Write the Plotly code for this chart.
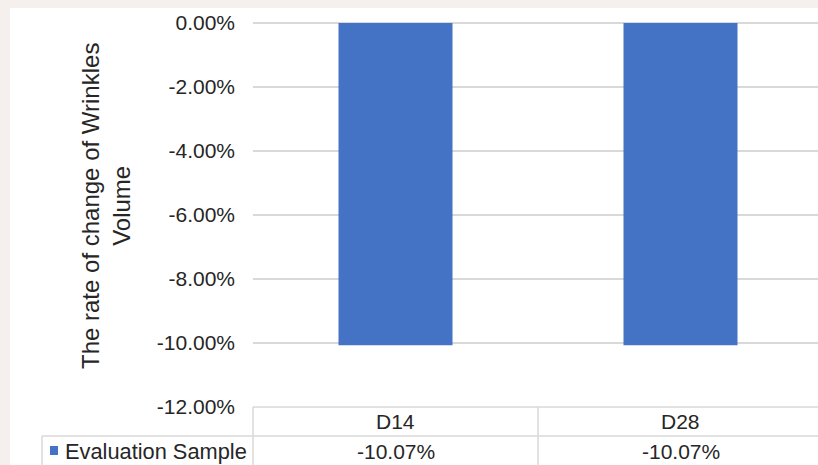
import plotly.graph_objects as go

categories = ["D14", "D28"]
series_name = "Evaluation Sample"
values = [-0.1007, -0.1007]
y_ticks = [0, -0.02, -0.04, -0.06, -0.08, -0.10, -0.12]

W, H = 818, 465
L, R, T, B = 253, 0, 23, 58
PW = W - L - R
PH = H - T - B
FONT = "Liberation Sans, Arial, sans-serif"
BLUE = "#4472c4"
GRID = "#d9d9d9"
TXT = "#262626"


def px_x(x):
    return (x - L) / PW


def px_y(y):
    return (H - B - y) / PH


def pct(v):
    return f"{v*100:.2f}%"


fig = go.Figure()
fig.add_trace(go.Bar(
    x=categories, y=values, name=series_name,
    marker=dict(color=BLUE, line=dict(width=0)),
    width=0.4, showlegend=False, hoverinfo="skip",
))

shapes = []
# page border (light background strip)
shapes.append(dict(type="rect", xref="paper", yref="paper", x0=px_x(0), x1=px_x(W),
                   y0=px_y(0), y1=px_y(8), fillcolor="#f5f0ed", line=dict(width=0), layer="above"))
shapes.append(dict(type="rect", xref="paper", yref="paper", x0=px_x(0), x1=px_x(10),
                   y0=px_y(0), y1=px_y(H), fillcolor="#f5f0ed", line=dict(width=0), layer="above"))


def hline(y, x0, x1):
    shapes.append(dict(type="line", xref="paper", yref="paper", x0=px_x(x0), x1=px_x(x1),
                       y0=px_y(y), y1=px_y(y), line=dict(color=GRID, width=1.5), layer="above"))


def vline(x, y0, y1):
    shapes.append(dict(type="line", xref="paper", yref="paper", x0=px_x(x), x1=px_x(x),
                       y0=px_y(y0), y1=px_y(y1), line=dict(color=GRID, width=1.5), layer="above"))


# data table grid
hline(407, 253, W)
hline(436, 42, W)
vline(253, 407, H)
vline(42, 436, H)
# separators between categories (in data coords)
for i in range(len(categories)):
    xc = i + 0.5
    shapes.append(dict(type="line", xref="x", yref="paper", x0=xc, x1=xc,
                       y0=px_y(407), y1=px_y(H), line=dict(color=GRID, width=1.5), layer="above"))
# legend key
shapes.append(dict(type="rect", xref="paper", yref="paper", x0=px_x(50), x1=px_x(58),
                   y0=px_y(446), y1=px_y(455), fillcolor=BLUE, line=dict(width=0), layer="above"))

annotations = []
for cat, v in zip(categories, values):
    annotations.append(dict(x=cat, xref="x", y=px_y(421.5), yref="paper", text=cat, showarrow=False,
                            xanchor="center", yanchor="middle", font=dict(family=FONT, size=21, color=TXT)))
    annotations.append(dict(x=cat, xref="x", y=px_y(451.5), yref="paper", text=pct(v),
                            showarrow=False, xanchor="center", yanchor="middle",
                            font=dict(family=FONT, size=21, color=TXT)))
annotations.append(dict(x=px_x(63), xref="paper", y=px_y(451.5), yref="paper", text=series_name,
                        showarrow=False, xanchor="left", yanchor="middle",
                        font=dict(family=FONT, size=21.8, color=TXT)))
annotations.append(dict(x=px_x(106), xref="paper", y=px_y(206), yref="paper",
                        text="The rate of change of Wrinkles<br>Volume", textangle=-90,
                        showarrow=False, xanchor="center", yanchor="middle",
                        font=dict(family=FONT, size=24, color=TXT)))

fig.update_layout(
    width=W, height=H,
    margin=dict(l=L, r=R, t=T, b=B, pad=0),
    paper_bgcolor="white", plot_bgcolor="white",
    shapes=shapes, annotations=annotations,
    xaxis=dict(range=[-0.5, 1.5 - 5 / 285], showticklabels=False, showgrid=False,
               zeroline=False, showline=False, ticks=""),
    yaxis=dict(range=[-0.12, 0], tickvals=y_ticks, ticktext=[pct(t) for t in y_ticks],
               showgrid=True, gridcolor=GRID, gridwidth=1.5,
               zeroline=True, zerolinecolor=GRID, zerolinewidth=1.5,
               showline=False, ticks="", ticklabelstandoff=17,
               tickfont=dict(family=FONT, size=21, color=TXT)),
    bargap=0.6,
)

fig.write_html("out.html", config={"displayModeBar": False},
               post_script="document.body.style.margin='0';document.body.style.overflow='hidden';")
